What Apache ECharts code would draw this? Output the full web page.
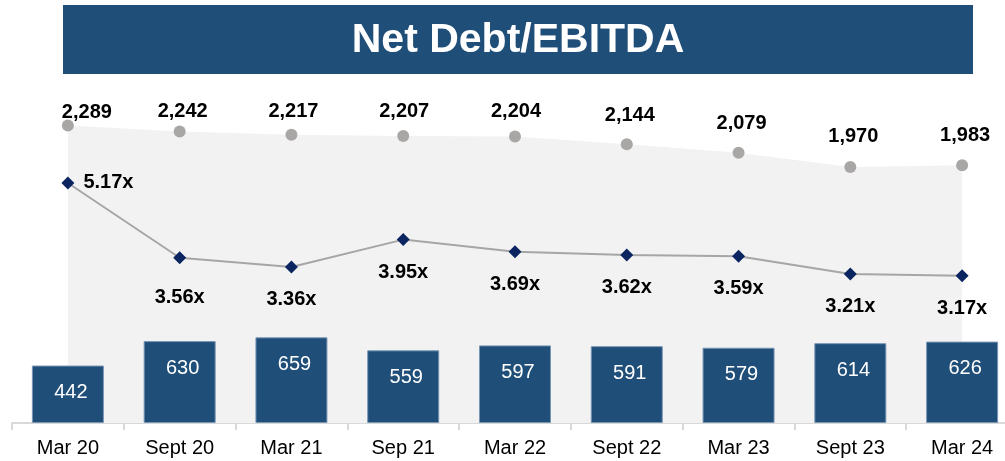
<!DOCTYPE html>
<html>
<head>
<meta charset="utf-8">
<title>Net Debt/EBITDA</title>
<script src="https://cdn.jsdelivr.net/npm/echarts@6/dist/echarts.min.js"></script>
<style>
  html, body { margin: 0; padding: 0; background: #ffffff; }
  #chart { width: 1005px; height: 461px; }
</style>
</head>
<body>
<div id="chart"></div>
<script>
// Reporting periods
const periods = ['Mar 20', 'Sept 20', 'Mar 21', 'Sep 21', 'Mar 22', 'Sept 22', 'Mar 23', 'Sept 23', 'Mar 24'];
// Net debt (grey area with dots)
const netDebt = [2289, 2242, 2217, 2207, 2204, 2144, 2079, 1970, 1983];
// EBITDA (bars)
const ebitda = [442, 630, 659, 559, 597, 591, 579, 614, 626];
// Net debt / EBITDA multiple (line with diamonds)
const leverage = [5.17, 3.56, 3.36, 3.95, 3.69, 3.62, 3.59, 3.21, 3.17];

// Fine label nudges [dx, dy] so labels clear the neighbouring marks
const debtLabelNudge = [[19, 16], [3, 9], [2, 6], [1, 4], [1, 4], [3, 0], [3, 0], [3, -1], [3, -1]];
const ratioLabelNudge = [[0, 0], [0, 7], [0, 0], [0, 0], [0, 0], [0, 0], [0, 0], [0, 0], [0, 0]];

const FONT = '"Liberation Sans", Arial, Helvetica, sans-serif';
const NAVY = '#1f4e79';

const chart = echarts.init(document.getElementById('chart'), null, { renderer: 'canvas' });

const debtData = netDebt.map((v, i) => ({
  value: v,
  label: { offset: debtLabelNudge[i] }
}));

const ratioData = leverage.map((v, i) => (i === 0
  ? { value: v, label: { position: 'right', distance: 9 } }
  : { value: v, label: { offset: ratioLabelNudge[i] } }));

chart.setOption({
  animation: false,
  backgroundColor: '#ffffff',
  graphic: [
    {
      type: 'rect',
      shape: { x: 63, y: 5, width: 910, height: 69 },
      style: { fill: NAVY },
      z: 10
    },
    {
      type: 'text',
      x: 518,
      y: 41,
      style: {
        text: 'Net Debt/EBITDA',
        fill: '#ffffff',
        font: 'bold 41px ' + FONT,
        textAlign: 'center',
        textVerticalAlign: 'middle'
      },
      z: 11
    }
  ],
  // the plot runs a little past the right edge of the page
  grid: {
    left: 12, width: 1006, top: 98, bottom: 38,
    containLabel: false, outerBoundsMode: 'none'
  },
  xAxis: {
    type: 'category',
    data: periods,
    boundaryGap: true,
    axisLine: { show: true, lineStyle: { color: '#d9d9d9', width: 2 } },
    axisTick: { show: true, length: 7, lineStyle: { color: '#d9d9d9', width: 2 } },
    axisLabel: { color: '#000000', fontSize: 20, fontFamily: FONT, margin: 15 },
    splitLine: { show: false }
  },
  yAxis: [
    { type: 'value', min: 0, max: 2500, show: false, splitLine: { show: false } },
    { type: 'value', min: 0, max: 7, show: false, splitLine: { show: false } }
  ],
  series: [
    {
      name: 'Net Debt',
      type: 'line',
      yAxisIndex: 0,
      data: debtData,
      z: 1,
      symbol: 'circle',
      symbolSize: 12,
      itemStyle: { color: '#a9a6a6' },
      lineStyle: { width: 0, color: '#f2f2f2' },
      areaStyle: { color: '#f2f2f2', opacity: 1 },
      label: {
        show: true,
        position: 'top',
        distance: 13,
        color: '#000000',
        fontWeight: 'bold',
        fontSize: 20,
        fontFamily: FONT,
        formatter: p => p.value.toLocaleString('en-US')
      }
    },
    {
      name: 'EBITDA',
      type: 'bar',
      yAxisIndex: 0,
      data: ebitda,
      z: 3,
      barWidth: 72,
      itemStyle: { color: NAVY, borderColor: '#7895b4', borderWidth: 1 },
      label: {
        show: true,
        position: 'insideTop',
        distance: 17,
        offset: [3, 0],
        color: '#ffffff',
        fontSize: 20,
        fontFamily: FONT
      }
    },
    {
      name: 'Net Debt/EBITDA',
      type: 'line',
      yAxisIndex: 1,
      data: ratioData,
      z: 4,
      symbol: 'diamond',
      symbolSize: 13,
      itemStyle: { color: '#0b2560' },
      lineStyle: { color: '#a6a6a6', width: 2 },
      label: {
        show: true,
        position: 'bottom',
        distance: 16,
        color: '#000000',
        fontWeight: 'bold',
        fontSize: 20,
        fontFamily: FONT,
        formatter: p => p.value.toFixed(2) + 'x'
      }
    }
  ]
});
</script>
</body>
</html>
